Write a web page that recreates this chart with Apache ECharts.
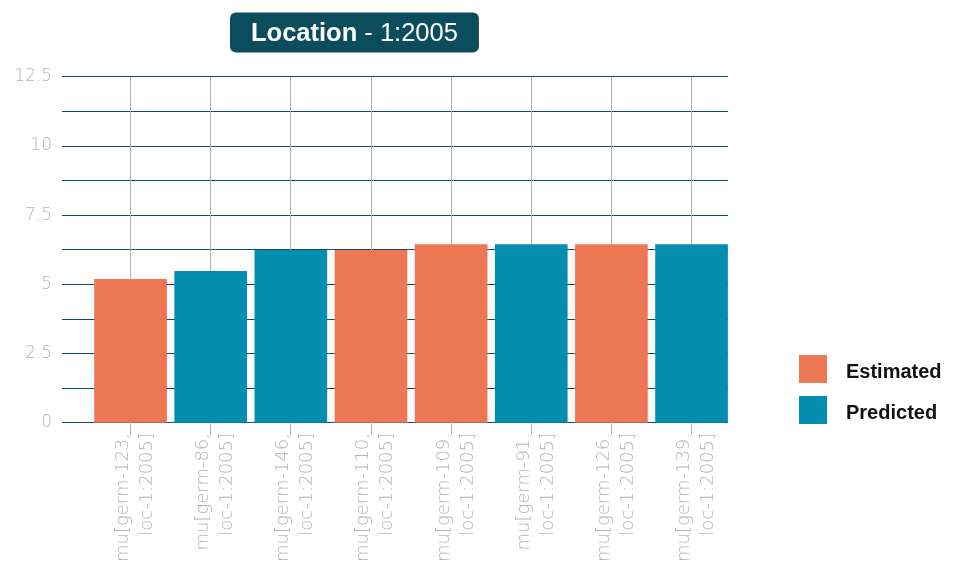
<!DOCTYPE html>
<html>
<head>
<meta charset="utf-8">
<script src="https://cdn.jsdelivr.net/npm/echarts@6/dist/echarts.min.js"></script>
<style>
  html, body { margin: 0; padding: 0; background: #fff; }
  #chart { width: 953px; height: 565px; }
</style>
</head>
<body>
<div id="chart"></div>
<script>
// Categories (germplasm at location 1:2005) and the values for each source
const categories = [
  'mu[germ-123, loc-1:2005]',
  'mu[germ-86, loc-1:2005]',
  'mu[germ-146, loc-1:2005]',
  'mu[germ-110, loc-1:2005]',
  'mu[germ-109, loc-1:2005]',
  'mu[germ-91, loc-1:2005]',
  'mu[germ-126, loc-1:2005]',
  'mu[germ-139, loc-1:2005]'
];
const estimated = [5.19, null, null, 6.24, 6.45, null, 6.45, null];
const predicted = [null, 5.48, 6.24, null, null, 6.45, null, 6.45];
const yTicks = { min: 0, max: 12.5, step: 1.25, labelStep: 2.5 };

const FONT = 'Liberation Sans, Helvetica, Arial, sans-serif';
const LIGHT_FONT = 'DejaVu Sans, Liberation Sans, sans-serif';
const ORANGE = '#ED7655';
const BLUE = '#028DB1';
const gridTop = 76.7, gridBottom = 142.3;

const chart = echarts.init(document.getElementById('chart'));
chart.setOption({
  animation: false,
  title: {
    left: 230, top: 12,
    text: '{b|Location}{n| - 1:2005}',
    backgroundColor: '#0B4D5D',
    borderRadius: 6,
    padding: [8, 21, 6, 21],
    textStyle: {
      rich: {
        b: { fontFamily: FONT, fontSize: 25.5, fontWeight: 'bold', color: '#fff', lineHeight: 27 },
        n: { fontFamily: FONT, fontSize: 25.5, fontWeight: 'normal', color: '#fff', lineHeight: 27 }
      }
    }
  },
  legend: {
    orient: 'vertical',
    left: 799, top: 355, padding: 0,
    icon: 'rect',
    itemWidth: 28, itemHeight: 28, itemGap: 13,
    formatter: name => '{t|' + name + '}',
    textStyle: {
      rich: {
        t: { fontFamily: FONT, fontSize: 20, fontWeight: 'bold', color: '#111', padding: [6, 0, 0, 14] }
      }
    },
    data: ['Estimated', 'Predicted']
  },
  grid: [
    // value axis with its horizontal rules
    { left: 62, right: 225, top: gridTop, bottom: gridBottom },
    // bars
    { left: 90.5, right: 221.4, top: gridTop, bottom: gridBottom },
    // ticks and vertical rules at category centres
    { left: 130.3, right: 261.5, top: gridTop, bottom: gridBottom },
    // rotated category labels
    { left: 135.3, right: 256.5, top: gridTop, bottom: gridBottom }
  ],
  xAxis: [
    { gridIndex: 0, type: 'category', data: categories, show: false },
    { gridIndex: 1, type: 'category', data: categories, show: false },
    {
      gridIndex: 2, type: 'category', data: categories, boundaryGap: false,
      axisLine: { show: false },
      axisTick: { show: true, interval: 0, length: 12, lineStyle: { color: '#b3b3b3', width: 1 } },
      splitLine: { show: true, interval: 0, lineStyle: { color: '#b3b3b3', width: 1 } },
      axisLabel: { show: false, interval: 0 }
    },
    {
      gridIndex: 3, type: 'category', data: categories, boundaryGap: false,
      axisLine: { show: false }, axisTick: { show: false }, splitLine: { show: false },
      axisLabel: {
        rotate: 90, margin: 17, interval: 0,
        fontFamily: LIGHT_FONT, fontWeight: 200, fontSize: 18, color: '#b4b4b4', lineHeight: 24,
        formatter: v => v.replace(', ', ',\n')
      }
    }
  ],
  yAxis: [
    {
      gridIndex: 0, type: 'value', min: yTicks.min, max: yTicks.max, interval: yTicks.step,
      axisLine: { show: false }, axisTick: { show: false },
      splitLine: { show: true, lineStyle: { color: '#0D4F5F', width: 1.2 } },
      axisLabel: {
        margin: 10, fontFamily: LIGHT_FONT, fontWeight: 200, fontSize: 17, color: '#b4b4b4',
        formatter: v => (Math.abs(v / yTicks.labelStep - Math.round(v / yTicks.labelStep)) < 1e-6 ? String(v) : '')
      }
    },
    { gridIndex: 1, type: 'value', min: yTicks.min, max: yTicks.max, show: false },
    { gridIndex: 2, type: 'value', min: yTicks.min, max: yTicks.max, show: false },
    { gridIndex: 3, type: 'value', min: yTicks.min, max: yTicks.max, show: false }
  ],
  series: [
    {
      name: 'Estimated', type: 'bar', xAxisIndex: 1, yAxisIndex: 1,
      stack: 'src', barCategoryGap: '9.3%',
      itemStyle: { color: ORANGE }, data: estimated
    },
    {
      name: 'Predicted', type: 'bar', xAxisIndex: 1, yAxisIndex: 1,
      stack: 'src', barCategoryGap: '9.3%',
      itemStyle: { color: BLUE }, data: predicted
    }
  ]
});
</script>
</body>
</html>
